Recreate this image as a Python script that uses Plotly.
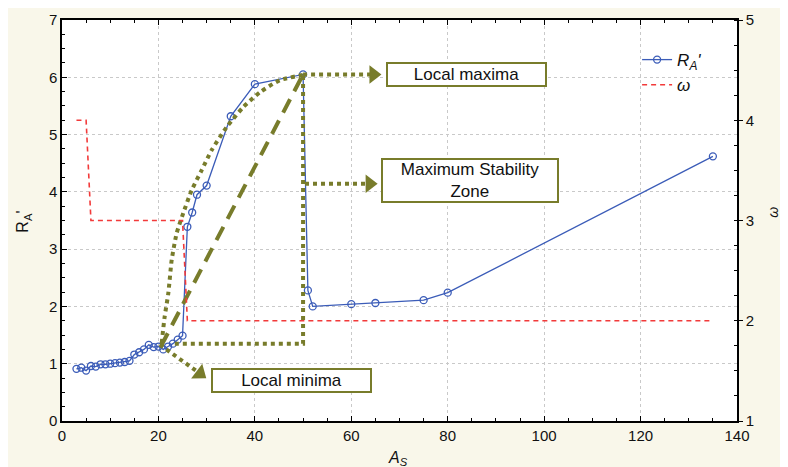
import plotly.graph_objects as go

# ---- data ----
as_values = [3, 4, 5, 6, 7, 8, 9, 10, 11, 12, 13, 14, 15, 16, 17, 18, 19, 20, 21, 22, 23, 24, 25,
             26, 27, 28, 30, 35, 40, 50, 51, 52, 60, 65, 75, 80, 135]
ra_values = [0.91, 0.93, 0.88, 0.96, 0.95, 0.99, 0.99, 1.00, 1.01, 1.02, 1.03, 1.05, 1.16, 1.20,
             1.25, 1.33, 1.29, 1.30, 1.25, 1.30, 1.35, 1.42, 1.49,
             3.39, 3.64, 3.95, 4.11, 5.32, 5.88, 6.05, 2.28, 2.00, 2.04, 2.06, 2.11, 2.24, 4.62]

omega_x = [3, 5, 6, 25, 26, 135]
omega_y = [4, 4, 3, 3, 2, 2]

x_ticks = [0, 20, 40, 60, 80, 100, 120, 140]
ra_ticks = [0, 1, 2, 3, 4, 5, 6, 7]
omega_ticks = [1, 2, 3, 4, 5]

# annotation guide paths (olive)
curve_x = [20.68, 21.26, 22.05, 22.75, 23.79, 25.16, 26.90, 28.98, 31.05, 34.16, 37.61, 41.07,
           45.22, 49.99]
curve_y = [1.36, 1.80, 2.23, 2.81, 3.28, 3.63, 4.03, 4.38, 4.73, 5.13, 5.48, 5.74,
           5.95, 6.04]
zone_x = [23.4, 50.0, 50.0]
zone_y = [1.35, 1.35, 6.05]
diag_x = [20.5, 50.0]
diag_y = [1.30, 6.05]
min_arrow_x = [20.3, 28.6]
min_arrow_y = [1.33, 0.83]
max_arrow_x = [50.0, 64.6]
max_arrow_y = [6.05, 6.05]
zone_arrow_x = [50.4, 63.8]
zone_arrow_y = [4.14, 4.14]

OLIVE = "#787c2b"
BLUE = "#3b5cb8"
RED = "#f23a3a"
CREAM = "#f9f7ea"
FONT = "Liberation Sans, Arial, sans-serif"
TXT = "#111111"

fig = go.Figure()

fig.add_trace(go.Scatter(
    x=as_values, y=ra_values, mode="lines+markers", name="<i>R<sub>A</sub>'</i>",
    line=dict(color=BLUE, width=1.3),
    marker=dict(symbol="circle-open", size=7, color=BLUE, line=dict(width=1.3)),
))
fig.add_trace(go.Scatter(
    x=omega_x, y=omega_y, mode="lines", name="<i>ω</i>", yaxis="y2",
    line=dict(color=RED, width=1.6, dash="5px,4px"),
))

def guide(x, y, dash, width=4, shape="linear"):
    fig.add_trace(go.Scatter(x=x, y=y, mode="lines", showlegend=False, hoverinfo="skip",
                             line=dict(color=OLIVE, width=width, dash=dash, shape=shape,
                                       smoothing=0.6 if shape == "spline" else None)))

guide(curve_x, curve_y, "4px,4px", shape="spline")
guide(zone_x, zone_y, "4px,4px")
guide(diag_x, diag_y, "15px,9px", width=4)
guide(min_arrow_x, min_arrow_y, "4px,4px")
guide(max_arrow_x, max_arrow_y, "4px,4px")
guide(zone_arrow_x, zone_arrow_y, "4px,4px")

# arrowheads
fig.add_trace(go.Scatter(
    x=[max_arrow_x[-1], zone_arrow_x[-1], min_arrow_x[-1]],
    y=[max_arrow_y[-1], zone_arrow_y[-1], min_arrow_y[-1]],
    mode="markers", showlegend=False, hoverinfo="skip",
    marker=dict(symbol="triangle-right", size=16, color=OLIVE, angle=[0, 0, 37]),
))

box_font = dict(family=FONT, size=17, color=TXT)
def box(x, y, text, w, h):
    fig.add_annotation(x=x, y=y, xref="x", yref="y", text=text, showarrow=False,
                       font=box_font, bgcolor="white", bordercolor=OLIVE, borderwidth=2,
                       borderpad=0, width=w, height=h, align="center")

box(83.9, 6.05, "Local maxima", 157, 21)
box(84.6, 4.19, "Maximum Stability<br>Zone", 174, 41)
box(47.6, 0.71, "Local minima", 157, 21)

# axis titles as annotations (paper coordinates)
fig.add_annotation(x=-0.057, y=0.496, xref="paper", yref="paper", text="R<sub>A</sub>'",
                   textangle=-90, showarrow=False, xanchor="center", yanchor="middle",
                   font=dict(family=FONT, size=16, color=TXT))
fig.add_annotation(x=1.053, y=0.521, xref="paper", yref="paper", text="<i>ω</i>",
                   textangle=-90, showarrow=False, xanchor="center", yanchor="middle",
                   font=dict(family=FONT, size=14, color=TXT))
fig.add_annotation(x=0.498, y=-0.0923, xref="paper", yref="paper", text="<i>A<sub>S</sub></i>",
                   showarrow=False, xanchor="center", yanchor="middle",
                   font=dict(family=FONT, size=16, color=TXT))

tickfont = dict(family=FONT, size=15, color=TXT)
fig.update_layout(
    width=788, height=467,
    margin=dict(l=54, r=59, t=12, b=54),
    paper_bgcolor=CREAM, plot_bgcolor="white",
    font=dict(family=FONT),
    showlegend=True,
    legend=dict(x=0.852, y=0.945, xanchor="left", yanchor="top", bgcolor="rgba(0,0,0,0)",
                font=dict(family=FONT, size=17, color=TXT), tracegroupgap=0),
    xaxis=dict(range=[0, 140], tickvals=x_ticks, showline=True, linecolor="black", linewidth=1.5,
               mirror="ticks", ticks="inside", ticklen=5, tickcolor="black", tickfont=tickfont,
               showgrid=True, gridcolor="#c9c9c9", griddash="dot", gridwidth=1, zeroline=False,
               automargin=False,
               minor=dict(dtick=5, tick0=0, ticks="inside", ticklen=3, tickcolor="black", showgrid=False)),
    yaxis=dict(range=[0, 7], tickvals=ra_ticks, showline=True, linecolor="black", linewidth=1.5,
               ticks="inside", ticklen=5, tickcolor="black", tickfont=tickfont,
               showgrid=True, gridcolor="#c9c9c9", griddash="dot", gridwidth=1, zeroline=False,
               automargin=False,
               minor=dict(dtick=0.25, tick0=0, ticks="inside", ticklen=3, tickcolor="black", showgrid=False)),
    yaxis2=dict(range=[1, 5], tickvals=omega_ticks, overlaying="y", side="right", showline=True,
                linecolor="black", linewidth=1.5, ticks="outside", ticklen=4, tickcolor="black",
                tickfont=tickfont, showgrid=False, zeroline=False, automargin=False,
                minor=dict(dtick=0.25, tick0=1, ticks="inside", ticklen=3, tickcolor="black", showgrid=False)),
)

fig.write_html("out.html")
